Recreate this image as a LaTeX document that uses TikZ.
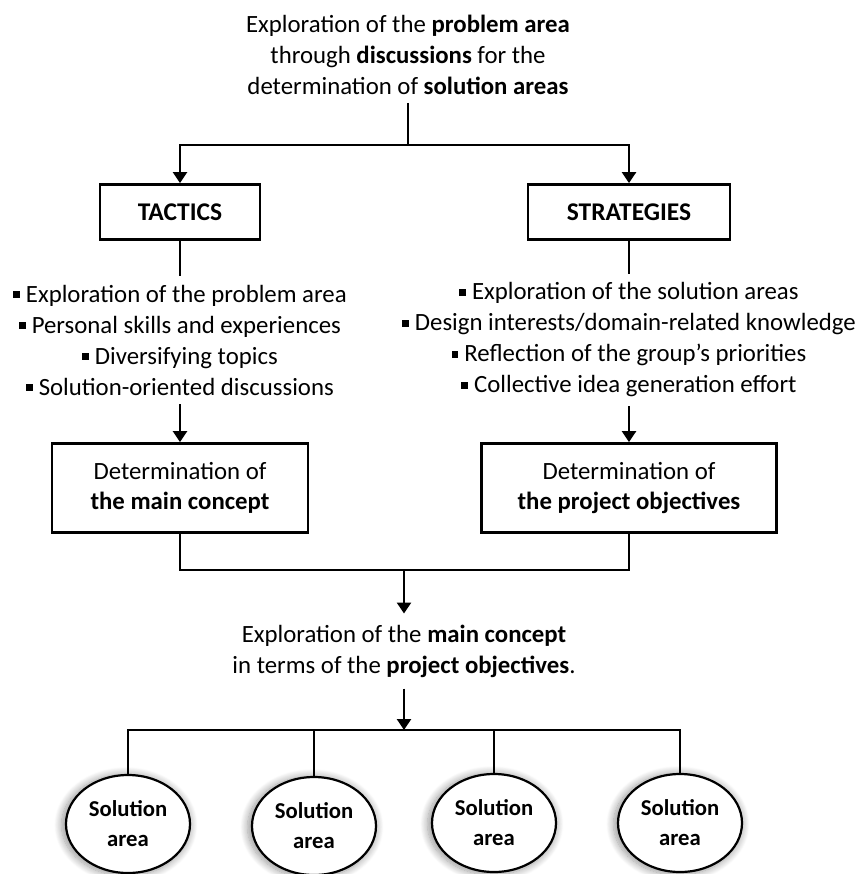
\documentclass[tikz,border=0pt]{standalone}
\usepackage{fontspec}
\setmainfont{Carlito}
\usetikzlibrary{arrows.meta,shapes.geometric,shadows.blur}
\newcommand{\sqb}{\raisebox{0.17em}{\rule{0.26em}{0.26em}}\hspace{0.25em}}
\tikzset{
  txt/.style={align=center, font=\fontsize{24.8}{31}\selectfont},
  headbox/.style={draw, line width=2.8pt, minimum height=55pt, inner sep=0pt,
    font=\fontsize{25.5}{31}\selectfont\bfseries},
  mainbox/.style={draw, line width=2.8pt, minimum height=89pt, inner sep=0pt,
    align=center, font=\fontsize{24.8}{30}\selectfont},
  solution/.style={ellipse, draw, line width=2.2pt, fill=white, minimum width=124pt,
    minimum height=98pt, inner sep=0pt, align=center,
    font=\fontsize{22.7}{30}\selectfont\bfseries,
    blur shadow={shadow xshift=-2pt, shadow yshift=-1pt, shadow scale=1.04,
      shadow blur radius=7pt, shadow blur steps=12, shadow opacity=40}},
  link/.style={line width=2.5pt},
  arrow/.style={line width=2.5pt, -{Triangle[width=14pt,length=11pt]}}
}
\begin{document}
\begin{tikzpicture}[x=1pt,y=-1pt]
\useasboundingbox (0,0) rectangle (863,874);
% top of the tree
\node[txt, inner sep=8pt] (top) at (408,55) {Exploration of the \textbf{problem area}\\
  through \textbf{discussions} for the\\ determination of \textbf{solution areas}};
\coordinate (split) at (408,145);
\node[headbox, minimum width=160pt] (tactics) at (180,212) {TACTICS};
\node[headbox, minimum width=202pt] (strategies) at (629,212) {STRATEGIES};

% the two lists
\node[txt, inner sep=9pt] (tlist) at (180,340) {\sqb Exploration of the problem area\\
  \sqb Personal skills and experiences\\ \sqb Diversifying topics\\
  \sqb Solution-oriented discussions};
\node[txt, inner sep=9pt] (slist) at (629,340) {\sqb Exploration of the solution areas\\
  \sqb Design interests/domain-related knowledge\\ \sqb Reflection of the group’s priorities\\
  \sqb Collective idea generation effort};

\node[mainbox, minimum width=256pt] (concept) at (180,488) {Determination of\\ \textbf{the main concept}};
\node[mainbox, minimum width=295pt] (objectives) at (629,488) {Determination of\\ \textbf{the project objectives}};
\coordinate (join) at (404,570);

% bottom part
\node[txt, inner sep=11pt] (explore) at (404,651) {Exploration of the \textbf{main concept}\\
  in terms of the \textbf{project objectives}.};
\coordinate (fork) at (404,730);
\foreach \n/\x/\y in {1/128/824, 2/314/826, 3/494/823, 4/680/823}
  \node[solution] (sol\n) at (\x,\y) {Solution\\area};

\draw[link] (top) -- (split);
\draw[arrow] (split) -| (tactics);
\draw[arrow] (split) -| (strategies);
\draw[link] (tactics) -- (tlist);
\draw[link] (strategies) -- (slist);
\draw[arrow] (tlist) -- (concept);
\draw[arrow] (slist) -- (objectives);
\draw[link] (concept) |- (join) -| (objectives);
\draw[arrow] (join) -- (explore);
\draw[arrow] (explore) -- (fork);
\foreach \n in {1,...,4}
  \draw[link] (fork) -| (sol\n);
\end{tikzpicture}
\end{document}
